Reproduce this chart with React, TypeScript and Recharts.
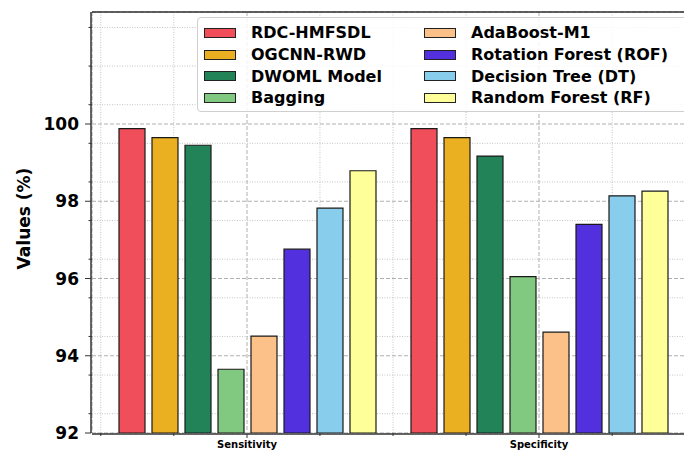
import React from 'react';
import { ComposedChart, Bar, XAxis, YAxis, CartesianGrid, Legend } from 'recharts';

const METRICS = ['Sensitivity', 'Specificity'];
const METHODS = [
  'RDC-HMFSDL',
  'OGCNN-RWD',
  'DWOML Model',
  'Bagging',
  'AdaBoost-M1',
  'Rotation Forest (ROF)',
  'Decision Tree (DT)',
  'Random Forest (RF)',
];
const RDC_HMFSDL = [99.88, 99.88];
const OGCNN_RWD = [99.65, 99.65];
const DWOML = [99.45, 99.17];
const BAGGING = [93.65, 96.05];
const ADABOOST = [94.51, 94.61];
const ROF = [96.76, 97.4];
const DT = [97.82, 98.14];
const RF = [98.79, 98.26];
const SERIES = [RDC_HMFSDL, OGCNN_RWD, DWOML, BAGGING, ADABOOST, ROF, DT, RF];
const COLORS = ['#F04E5A', '#EBAF22', '#228258', '#81C981', '#FCC089', '#5230DD', '#89CDEC', '#FFFF99'];

const Y_MIN = 92;
const Y_MAX = 102.9;
const Y_MAJOR = [92, 94, 96, 98, 100];
const Y_MINOR = [92.5, 93, 93.5, 94.5, 95, 95.5, 96.5, 97, 97.5, 98.5, 99, 99.5, 100.5, 101, 101.5, 102, 102.5];
const X_DOMAIN = [-0.53, 1.53];
const X_MINOR = [-0.5, -0.25, 0.25, 0.5, 0.75, 1.25, 1.5];

const data = METRICS.map((m, i) => {
  const row: Record<string, any> = { metric: m, pos: i };
  METHODS.forEach((name, j) => {
    row[name] = SERIES[j][i];
  });
  return row;
});

const FONT = '"DejaVu Sans", Verdana, sans-serif';

const renderLegend = () => {
  return (
    <div
      style={{
        boxSizing: 'border-box',
        width: 520,
        height: 95,
        border: '1px solid #cfcfcf',
        borderRadius: 4,
        background: 'rgba(255,255,255,0.85)',
        padding: '4px 0 0 6px',
        display: 'grid',
        gridTemplateRows: 'repeat(4, 21.7px)',
        gridTemplateColumns: '220px 280px',
        gridAutoFlow: 'column',
        fontFamily: FONT,
        fontWeight: 'bold',
        fontSize: 16,
        color: '#000',
      }}
    >
      {METHODS.map((name, i) => (
        <div key={name} style={{ display: 'flex', alignItems: 'center', whiteSpace: 'nowrap' }}>
          <span
            style={{
              display: 'inline-block',
              boxSizing: 'border-box',
              width: 32,
              height: 10,
              background: COLORS[i],
              border: '1px solid #222',
              marginRight: 15,
            }}
          />
          <span>{name}</span>
        </div>
      ))}
    </div>
  );
};

const YLabel = (props: any) => {
  const vb = props.viewBox || { x: 0, y: 12, width: 92, height: 421 };
  const cx = 24;
  const cy = vb.y + vb.height / 2 - 4;
  return (
    <text
      x={cx}
      y={cy}
      transform={`rotate(-90, ${cx}, ${cy})`}
      textAnchor="middle"
      dominantBaseline="central"
      style={{ fontFamily: FONT, fontWeight: 'bold', fontSize: 17, fill: '#000' }}
    >
      Values (%)
    </text>
  );
};

const EmptyTick = () => <g />;

export default function App() {
  return (
    <div
      style={{
        position: 'absolute',
        left: 0,
        top: 0,
        width: 684,
        height: 453,
        overflow: 'hidden',
        background: '#fff',
        fontFamily: FONT,
      }}
    >
      <ComposedChart
        width={700}
        height={453}
        data={data}
        margin={{ top: 11, right: 6, bottom: 0, left: 0 }}
        barSize={26}
        barGap={7}
      >
        <XAxis
          xAxisId="aminorx"
          type="number"
          dataKey="pos"
          domain={X_DOMAIN}
          allowDataOverflow
          ticks={X_MINOR}
          tick={<EmptyTick />}
          tickSize={3}
          tickLine={{ stroke: '#333' }}
          axisLine={false}
          height={1}
        />
        <XAxis
          xAxisId="cat"
          dataKey="metric"
          padding={{ left: 9, right: 9 }}
          height={19}
          tickSize={4}
          tickMargin={3}
          tickLine={{ stroke: '#333' }}
          axisLine={{ stroke: '#333', strokeWidth: 1.5 }}
          tick={{ fontFamily: FONT, fontWeight: 'bold', fontSize: 10, fill: '#000' }}
        />
        <XAxis
          xAxisId="top"
          orientation="top"
          dataKey="metric"
          height={1}
          tick={<EmptyTick />}
          tickLine={false}
          axisLine={{ stroke: '#333', strokeWidth: 1.5 }}
        />
        <YAxis
          yAxisId="aminor"
          type="number"
          domain={[Y_MIN, Y_MAX]}
          allowDataOverflow
          ticks={Y_MINOR}
          tick={<EmptyTick />}
          tickSize={3.5}
          tickLine={{ stroke: '#333' }}
          axisLine={false}
          width={1}
        />
        <YAxis
          yAxisId="main"
          type="number"
          domain={[Y_MIN, Y_MAX]}
          allowDataOverflow
          ticks={Y_MAJOR}
          width={91}
          tickSize={6}
          tickMargin={6}
          tickLine={{ stroke: '#333' }}
          axisLine={{ stroke: '#333', strokeWidth: 1.5 }}
          tick={{ fontFamily: FONT, fontWeight: 'bold', fontSize: 17, fill: '#000' }}
          label={<YLabel />}
        />
        <CartesianGrid
          xAxisId="aminorx"
          yAxisId="aminor"
          stroke="#c4c4c4"
          strokeDasharray="1 1.5"
          strokeWidth={1}
        />
        <CartesianGrid
          xAxisId="cat"
          yAxisId="main"
          stroke="#b0b0b0"
          strokeDasharray="4 2"
          strokeWidth={1}
        />
        <Legend
          layout="horizontal"
          align="center"
          verticalAlign="middle"
          content={renderLegend}
          wrapperStyle={{ left: 197, top: 17, width: 520, height: 95 }}
        />
        {METHODS.map((name, i) => (
          <Bar
            key={name}
            xAxisId="cat"
            yAxisId="main"
            dataKey={name}
            name={name}
            fill={COLORS[i]}
            stroke="#1a1a1a"
            strokeWidth={1.2}
            isAnimationActive={false}
          />
        ))}
      </ComposedChart>
    </div>
  );
}
